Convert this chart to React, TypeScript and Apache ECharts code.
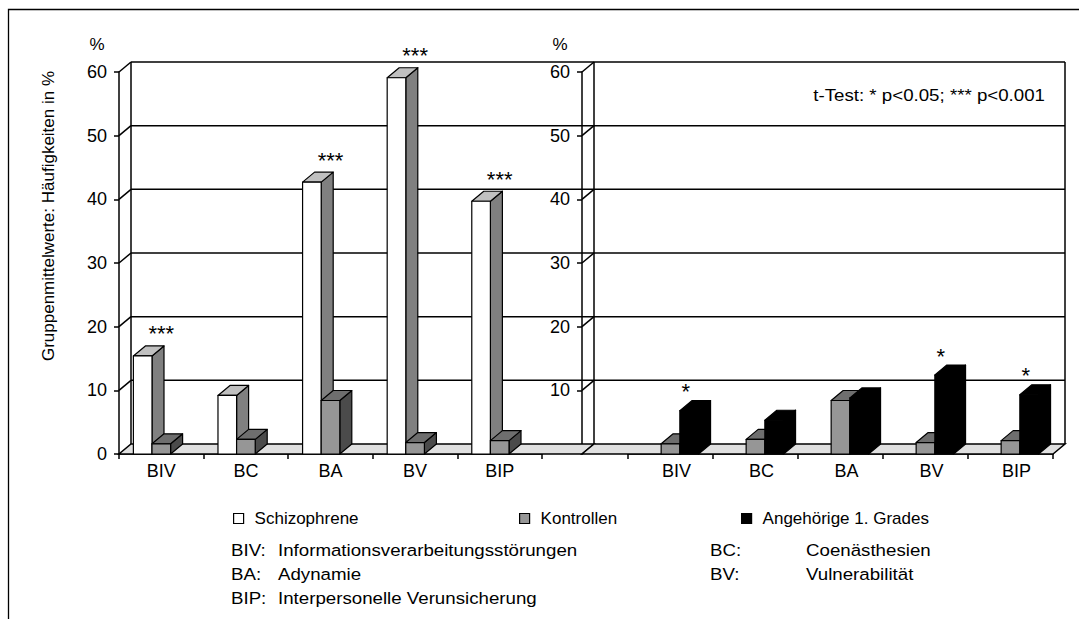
import React, { useEffect, useRef } from "react";
import * as echarts from "echarts";

// ---------- data ----------
const categories = ["BIV", "BC", "BA", "BV", "BIP"];
const schizophrene = [15.4, 9.2, 42.7, 59.1, 39.7];
const kontrollen = [1.6, 2.3, 8.4, 1.8, 2.1];
const angehoerige = [6.8, 5.3, 8.8, 12.4, 9.3];
const sigLeft = ["***", "", "***", "***", "***"];
const sigRight = ["*", "", "", "*", "*"];
const yTicks = [0, 10, 20, 30, 40, 50, 60];
const seriesNames = ["Schizophrene", "Kontrollen", "Angehörige 1. Grades"];
const abbrevLeft = [
  ["BIV:", "Informationsverarbeitungsstörungen"],
  ["BA:", "Adynamie"],
  ["BIP:", "Interpersonelle Verunsicherung"],
];
const abbrevRight = [
  ["BC:", "Coenästhesien"],
  ["BV:", "Vulnerabilität"],
];
const yTitle = "Gruppenmittelwerte: Häufigkeiten in %";
const unitLabel = "%";
const testNote = "t-Test: * p<0.05; *** p<0.001";

// ---------- style ----------
const FONT = "'Liberation Sans', Arial, Helvetica, sans-serif";
const FS = 17;
const AXIS_FS = 18;
const STRETCH = 1.1;
const DX = 12;
const DY = -10;
const LINE = { stroke: "#000", lineWidth: 1.5 };

const COLORS = [
  { front: "#ffffff", top: "#c0c0c0", side: "#808080" },
  { front: "#969696", top: "#6e6e6e", side: "#4b4b4b" },
  { front: "#000000", top: "#000000", side: "#000000" },
];

function frameSeries(idx: number, extL: number, extR: number, rightEdge: boolean) {
  return {
    type: "custom",
    xAxisIndex: idx,
    yAxisIndex: idx,
    silent: true,
    clip: false,
    z: 1,
    data: yTicks.map((v) => [0, v]),
    renderItem: (params: any, api: any) => {
      const cs = params.coordSys;
      const fl = cs.x - extL;
      const fr = cs.x + cs.width + extR;
      const v = api.value(1);
      const y = api.coord([0, v])[1];
      const y0 = api.coord([0, yTicks[0]])[1];
      const kids: any[] = [];
      if (v === yTicks[0]) {
        kids.push({
          type: "polygon",
          shape: { points: [[fl, y], [fr, y], [fr + DX, y + DY], [fl + DX, y + DY]] },
          style: { fill: "#e0e0e0", stroke: "#000", lineWidth: 1.5 },
        });
      } else {
        kids.push({ type: "line", shape: { x1: fl + DX, y1: y + DY, x2: fr + DX, y2: y + DY }, style: LINE });
        kids.push({ type: "line", shape: { x1: fl, y1: y, x2: fl + DX, y2: y + DY }, style: LINE });
      }
      if (v === yTicks[yTicks.length - 1]) {
        kids.push({ type: "line", shape: { x1: fl + DX, y1: y + DY, x2: fl + DX, y2: y0 + DY }, style: LINE });
        if (rightEdge) {
          kids.push({ type: "line", shape: { x1: fr + DX, y1: y + DY, x2: fr + DX, y2: y0 + DY }, style: LINE });
        }
      }
      return { type: "group", children: kids };
    },
  };
}

function barSeries(name: string, values: number[], idx: number, slot: number) {
  const c = COLORS[slot];
  return {
    type: "custom",
    name,
    xAxisIndex: idx,
    yAxisIndex: idx,
    z: 3,
    clip: false,
    itemStyle: { color: c.front, borderColor: "#000" },
    data: values.map((v, i) => [i, v]),
    renderItem: (params: any, api: any) => {
      const i = api.value(0);
      const v = api.value(1);
      const top = api.coord([i, v]);
      const base = api.coord([i, 0])[1];
      const band = api.size([1, 0])[0];
      const bw = band * 0.22;
      const x0 = top[0] - 1.5 * bw + slot * bw;
      const x1 = x0 + bw;
      const yt = top[1];
      const st = { stroke: "#000", lineWidth: 1.2, lineJoin: "round" };
      return {
        type: "group",
        children: [
          {
            type: "polygon",
            shape: { points: [[x1, yt], [x1 + DX, yt + DY], [x1 + DX, base + DY], [x1, base]] },
            style: { ...st, fill: c.side },
          },
          {
            type: "polygon",
            shape: { points: [[x0, yt], [x1, yt], [x1 + DX, yt + DY], [x0 + DX, yt + DY]] },
            style: { ...st, fill: c.top },
          },
          {
            type: "rect",
            shape: { x: x0, y: yt, width: bw, height: base - yt },
            style: { ...st, fill: c.front },
          },
        ],
      };
    },
  };
}

function sigSeries(idx: number, labels: string[], tops: number[], dxFrac: number, lift: number) {
  return {
    type: "custom",
    xAxisIndex: idx,
    yAxisIndex: idx,
    z: 4,
    silent: true,
    clip: false,
    data: tops.map((v, i) => [i, v]),
    renderItem: (params: any, api: any) => {
      const s = labels[params.dataIndex];
      if (!s) return null;
      const p = api.coord([api.value(0), api.value(1)]);
      const band = api.size([1, 0])[0];
      return {
        type: "text",
        x: p[0] + band * dxFrac,
        y: p[1] + DY - lift,
        style: {
          text: s,
          fill: "#000",
          fontSize: 22,
          fontFamily: FONT,
          align: "center",
          verticalAlign: "middle",
        },
      };
    },
  };
}

const axisText = { color: "#000", fontSize: AXIS_FS, fontFamily: FONT };
const axisLineStyle = { color: "#000", width: 1.5 };

function xAxisDef(idx: number, shift: number) {
  return {
    gridIndex: idx,
    type: "category",
    data: categories,
    axisLine: { show: true, lineStyle: axisLineStyle },
    axisTick: { show: true, length: 5, lineStyle: axisLineStyle },
    axisLabel: { ...axisText, margin: 8, interval: 0, padding: [0, 0, 0, shift] },
    splitLine: { show: false },
  };
}

function yAxisDef(idx: number, offset: number, showMin: boolean) {
  return {
    gridIndex: idx,
    type: "value",
    min: 0,
    max: 60,
    interval: 10,
    offset,
    name: unitLabel,
    nameLocation: "end",
    nameGap: 19,
    nameTextStyle: { ...axisText, fontSize: FS, padding: [0, 44, 0, 0] },
    axisLine: { show: true, lineStyle: axisLineStyle },
    axisTick: { show: true, length: 5, lineStyle: axisLineStyle },
    axisLabel: { ...axisText, margin: 12, showMinLabel: showMin },
    splitLine: { show: false },
  };
}

function legendDef(name: string, left: number, style: any) {
  return {
    data: [{ name, icon: "rect", itemStyle: style }],
    left,
    top: 505,
    itemWidth: 10,
    itemHeight: 10,
    selectedMode: false,
    textStyle: { ...axisText, fontSize: FS, padding: [0, 0, 0, 6] },
  };
}

export default function App() {
  const ref = useRef<HTMLDivElement>(null);

  useEffect(() => {
    if (!ref.current) return;
    const chart = echarts.init(ref.current, undefined, { renderer: "svg" });

    const topsLeft = categories.map((_, i) => Math.max(schizophrene[i], kontrollen[i]));
    const topsRight = categories.map((_, i) => Math.max(angehoerige[i], kontrollen[i]));

    const textEl = (text: string, x: number, y: number, extra: any = {}, sx = STRETCH) => ({
      type: "text",
      x,
      y,
      scaleX: sx,
      silent: true,
      style: { text, fill: "#000", fontSize: FS, fontFamily: FONT, align: "left", verticalAlign: "middle", ...extra },
    });

    const graphics: any[] = [
      {
        type: "rect",
        silent: true,
        z: -10,
        shape: { x: 8.5, y: 9.5, width: 1080, height: 620 },
        style: { fill: "transparent", stroke: "#000", lineWidth: 1.3 },
      },
      { ...textEl(yTitle, 48, 216, { align: "center" }, 1), rotation: Math.PI / 2 },
      textEl(testNote, 1045, 95, { align: "right" }),
    ];
    abbrevLeft.forEach(([k, d], r) => {
      graphics.push(textEl(k, 231, 550 + r * 24));
      graphics.push(textEl(d, 278, 550 + r * 24));
    });
    abbrevRight.forEach(([k, d], r) => {
      graphics.push(textEl(k, 710, 550 + r * 24));
      graphics.push(textEl(d, 806, 550 + r * 24));
    });

    chart.setOption({
      animation: false,
      backgroundColor: "#fff",
      textStyle: { fontFamily: FONT },
      grid: [
        { left: 119, top: 72, width: 423, height: 382 },
        { left: 628, top: 72, width: 425, height: 382 },
      ],
      xAxis: [xAxisDef(0, 0), xAxisDef(1, 12)],
      yAxis: [yAxisDef(0, 0, true), yAxisDef(1, 46, false)],
      legend: [
        legendDef(seriesNames[0], 228, { color: "#fff", borderColor: "#000", borderWidth: 1.2 }),
        legendDef(seriesNames[1], 514, { color: "#969696", borderColor: "#000", borderWidth: 1.2 }),
        legendDef(seriesNames[2], 736, { color: "#000", borderColor: "#000", borderWidth: 1.2 }),
      ],
      graphic: graphics,
      series: [
        frameSeries(0, 0, 40, false),
        frameSeries(1, 46, 0, true),
        barSeries(seriesNames[0], schizophrene, 0, 0),
        barSeries(seriesNames[1], kontrollen, 0, 1),
        barSeries(seriesNames[1], kontrollen, 1, 1),
        barSeries(seriesNames[2], angehoerige, 1, 2),
        sigSeries(0, sigLeft, topsLeft, 0, 12),
        sigSeries(1, sigRight, topsRight, 0.18, 9),
      ],
    });

    return () => chart.dispose();
  }, []);

  return (
    <div
      ref={ref}
      style={{ position: "absolute", left: 0, top: 0, width: 1079, height: 619, background: "#fff" }}
    />
  );
}
